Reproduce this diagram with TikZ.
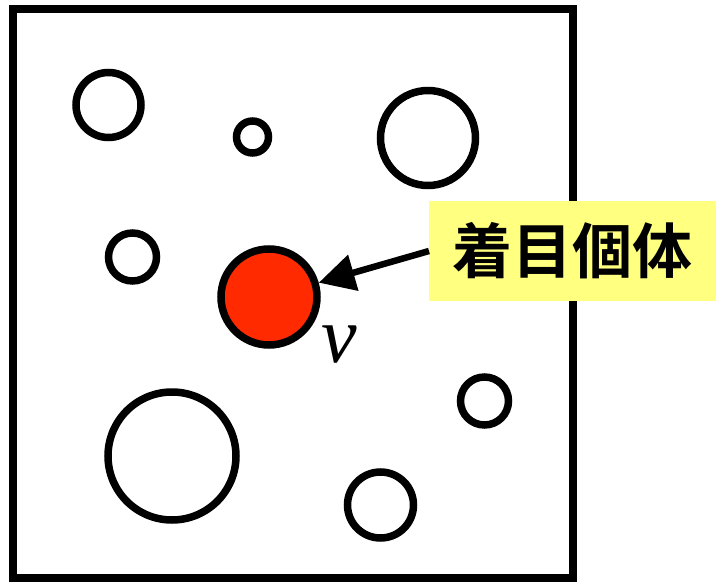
\documentclass[tikz,border=0pt]{standalone}
\usepackage{fontspec}
\setmainfont{Liberation Serif}
\newfontfamily\cjk{Noto Sans CJK JP}[BoldFont={Noto Sans CJK JP Bold}]
\usetikzlibrary{arrows.meta}
\definecolor{hilite}{HTML}{FFFF80}
\definecolor{focusred}{HTML}{FF2A00}
\begin{document}
\begin{tikzpicture}[x=1pt,y=-1pt,
  bubble/.style={circle,draw=black,line width=7.5pt,inner sep=0pt,minimum size=#1},
  label box/.style={fill=hilite,inner sep=0pt,minimum width=287pt,minimum height=100pt,font=\cjk\bfseries\fontsize{60}{60}\selectfont},
  pointer/.style={line width=6.5pt,-{Triangle[length=36pt,width=36pt]}}]
\useasboundingbox (0,0) rectangle (716,586);
\draw[line width=8pt] (12.5,9) rectangle (573,578);
\node[bubble=65pt] (c1) at (108.5,105) {};
\node[bubble=32pt] (c2) at (252.5,137) {};
\node[bubble=95pt] (c3) at (428,138) {};
\node[bubble=48pt] (c4) at (132.5,257) {};
\node[bubble=96pt,fill=focusred] (v) at (269,297) {};
\node[bubble=48pt] (c6) at (484.5,401) {};
\node[bubble=128pt] (c7) at (172,456) {};
\node[bubble=66pt] (c8) at (380.5,505) {};
\node[label box,anchor=west] (lab) at (429,251) {着目個体};
\node[font=\fontsize{80}{80}\selectfont\itshape,inner sep=0pt] (vl) at (339,345) {v};
\draw[pointer] (lab.west) -- (v);
\end{tikzpicture}
\end{document}
